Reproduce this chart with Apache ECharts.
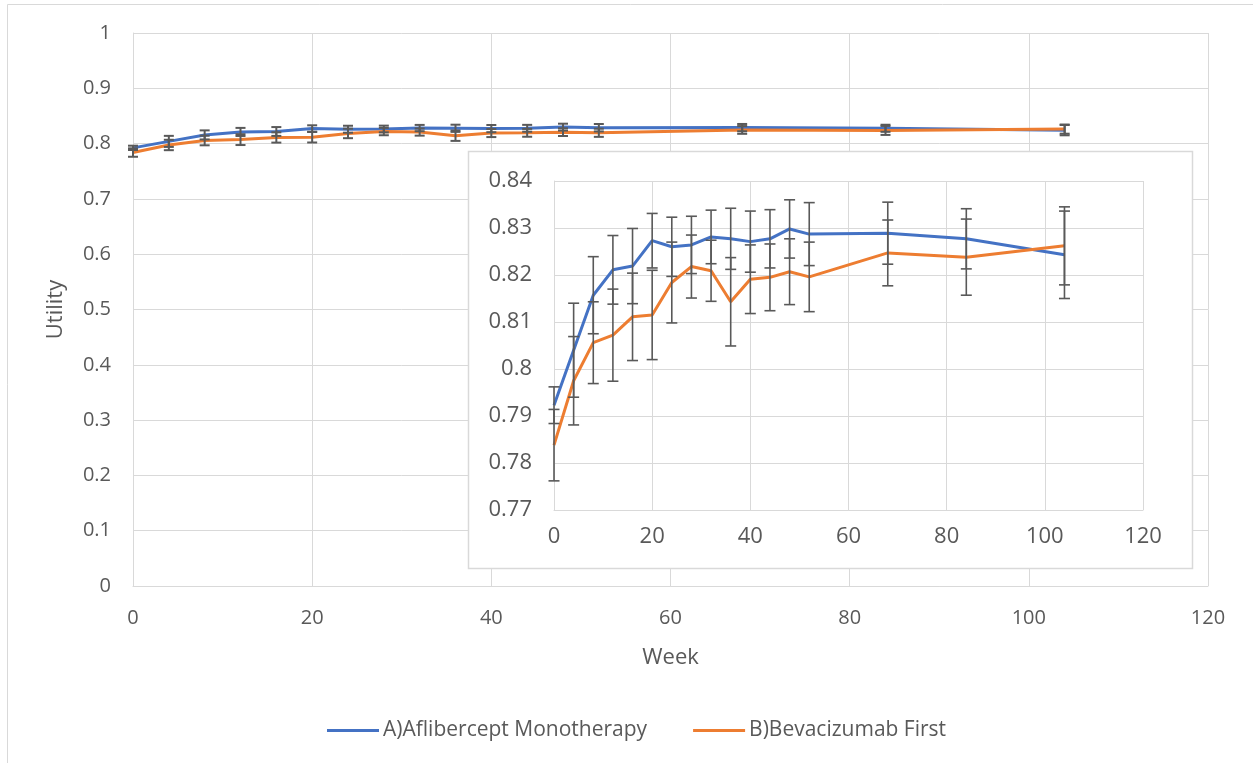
<!DOCTYPE html>
<html>
<head>
<meta charset="utf-8">
<script src="https://cdn.jsdelivr.net/npm/echarts@6/dist/echarts.min.js"></script>
<style>
html,body{margin:0;padding:0;background:#fff;}
#chart{width:1253px;height:763px;}
</style>
</head>
<body>
<div id="chart"></div>
<script>
// ---- data ----
const weeks = [0, 4, 8, 12, 16, 20, 24, 28, 32, 36, 40, 44, 48, 52, 68, 84, 104];
const aflibercept = [0.7923, 0.8040, 0.8157, 0.8211, 0.8219, 0.8273, 0.8260, 0.8264, 0.8281, 0.8277, 0.8271, 0.8277, 0.8298, 0.8287, 0.8289, 0.8277, 0.8243];
const afliberceptErr = [0.0039, 0.0100, 0.0082, 0.0073, 0.0080, 0.0058, 0.0063, 0.0061, 0.0057, 0.0065, 0.0065, 0.0062, 0.0062, 0.0067, 0.0066, 0.0064, 0.0093];
const bevacizumab = [0.7838, 0.7975, 0.8056, 0.8072, 0.8111, 0.8115, 0.8184, 0.8218, 0.8209, 0.8143, 0.8191, 0.8195, 0.8207, 0.8196, 0.8247, 0.8238, 0.8262];
const bevacizumabErr = [0.0076, 0.0094, 0.0087, 0.0098, 0.0093, 0.0095, 0.0086, 0.0067, 0.0065, 0.0094, 0.0073, 0.0071, 0.0070, 0.0074, 0.0070, 0.0081, 0.0083];
const seriesNames = ['A)Aflibercept Monotherapy', 'B)Bevacizumab First'];
const xTitle = 'Week';
const yTitle = 'Utility';

const BLUE = '#4472C4', ORANGE = '#ED7D31', GRID = '#D9D9D9', TXT = '#595959', ERR = '#595959';
const FONT = '"Open Sans", sans-serif';

function pts(vals) { return weeks.map((w, i) => [w, vals[i]]); }
function errData(vals, errs) { return weeks.map((w, i) => [w, vals[i] - errs[i], vals[i] + errs[i]]); }

function errSeries(id, axisIdx, vals, errs, capW, z, lw) {
  return {
    type: 'custom', id: id, name: id,
    xAxisIndex: axisIdx, yAxisIndex: axisIdx,
    z: z, silent: true,
    data: errData(vals, errs),
    encode: { x: 0, y: [1, 2] },
    renderItem: function (params, api) {
      const x = api.value(0);
      const lo = api.coord([x, api.value(1)]);
      const hi = api.coord([x, api.value(2)]);
      const hw = capW / 2;
      const st = { stroke: ERR, lineWidth: lw, fill: null };
      return {
        type: 'group',
        children: [
          { type: 'line', shape: { x1: lo[0], y1: lo[1], x2: hi[0], y2: hi[1] }, style: st },
          { type: 'line', shape: { x1: hi[0] - hw, y1: hi[1], x2: hi[0] + hw, y2: hi[1] }, style: st },
          { type: 'line', shape: { x1: lo[0] - hw, y1: lo[1], x2: lo[0] + hw, y2: lo[1] }, style: st }
        ]
      };
    }
  };
}

function lineSeries(name, axisIdx, vals, color, z) {
  return {
    type: 'line', name: name,
    xAxisIndex: axisIdx, yAxisIndex: axisIdx,
    data: pts(vals), showSymbol: false, symbol: 'none',
    lineStyle: { color: color, width: 3 }, itemStyle: { color: color },
    z: z, animation: false
  };
}

const chart = echarts.init(document.getElementById('chart'), null, { renderer: 'canvas' });

const option = {
  animation: false,
  backgroundColor: '#fff',
  textStyle: { fontFamily: FONT },
  graphic: [
    { type: 'rect', z: 0, silent: true,
      shape: { x: 7.5, y: 4.5, width: 1300, height: 800 },
      style: { fill: null, stroke: GRID, lineWidth: 1 } },
    { type: 'rect', z: 5, silent: true,
      shape: { x: 468.5, y: 151.5, width: 724, height: 417 },
      style: { fill: '#fff', stroke: GRID, lineWidth: 1.5 } }
  ],
  legend: {
    data: seriesNames,
    left: 322, top: 715,
    icon: 'rect', itemWidth: 52, itemHeight: 3, itemGap: 46,
    textStyle: { color: TXT, fontSize: 21, fontFamily: FONT, padding: [0, 0, 0, -1] }
  },
  grid: [
    { left: 133, top: 33, width: 1075, height: 553 },
    { left: 554, top: 181, width: 589, height: 329 }
  ],
  xAxis: [
    {
      gridIndex: 0, type: 'value', min: 0, max: 120, interval: 20, z: 1,
      name: xTitle, nameLocation: 'middle', nameGap: 61,
      nameTextStyle: { color: TXT, fontSize: 22, fontFamily: FONT },
      axisLine: { show: true, lineStyle: { color: GRID, width: 1 } },
      axisTick: { show: false },
      axisLabel: { color: TXT, fontSize: 20, margin: 22, fontFamily: FONT },
      splitLine: { show: true, lineStyle: { color: GRID, width: 1 } }
    },
    {
      gridIndex: 1, type: 'value', min: 0, max: 120, interval: 20, z: 10,
      axisLine: { show: true, lineStyle: { color: GRID, width: 1 } },
      axisTick: { show: false },
      axisLabel: { color: TXT, fontSize: 22, margin: 16, fontFamily: FONT },
      splitLine: { show: true, lineStyle: { color: GRID, width: 1 } }
    }
  ],
  yAxis: [
    {
      gridIndex: 0, type: 'value', min: 0, max: 1, interval: 0.1, z: 1,
      name: yTitle, nameLocation: 'middle', nameGap: 66, nameRotate: 90,
      nameTextStyle: { color: TXT, fontSize: 22, fontFamily: FONT },
      axisLine: { show: true, lineStyle: { color: GRID, width: 1 } },
      axisTick: { show: false },
      axisLabel: { color: TXT, fontSize: 20, margin: 22, fontFamily: FONT,
        formatter: v => String(+v.toFixed(1)) },
      splitLine: { show: true, lineStyle: { color: GRID, width: 1 } }
    },
    {
      gridIndex: 1, type: 'value', min: 0.77, max: 0.84, interval: 0.01, z: 10,
      axisLine: { show: true, lineStyle: { color: GRID, width: 1 } },
      axisTick: { show: false },
      axisLabel: { color: TXT, fontSize: 22, margin: 22, fontFamily: FONT,
        formatter: v => String(+v.toFixed(2)) },
      splitLine: { show: true, lineStyle: { color: GRID, width: 1 } }
    }
  ],
  series: [
    lineSeries(seriesNames[0], 0, aflibercept, BLUE, 2),
    lineSeries(seriesNames[1], 0, bevacizumab, ORANGE, 2),
    errSeries('errA0', 0, aflibercept, afliberceptErr, 10, 3, 2),
    errSeries('errB0', 0, bevacizumab, bevacizumabErr, 10, 3, 2),
    lineSeries(seriesNames[0], 1, aflibercept, BLUE, 12),
    lineSeries(seriesNames[1], 1, bevacizumab, ORANGE, 12),
    errSeries('errA1', 1, aflibercept, afliberceptErr, 11, 13, 1.6),
    errSeries('errB1', 1, bevacizumab, bevacizumabErr, 11, 13, 1.6)
  ]
};
chart.setOption(option);
</script>
</body>
</html>
